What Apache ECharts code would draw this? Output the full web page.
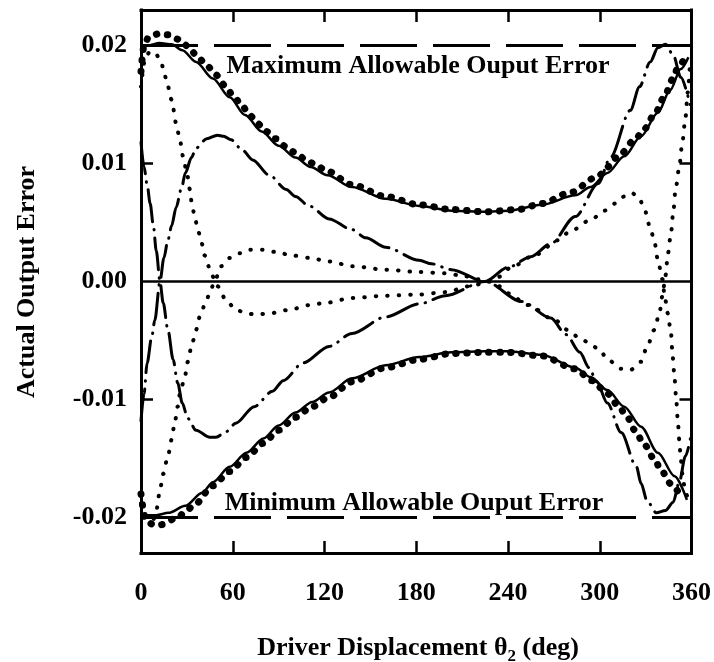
<!DOCTYPE html>
<html>
<head>
<meta charset="utf-8">
<script src="https://cdn.jsdelivr.net/npm/echarts@6/dist/echarts.min.js"></script>
<style>
  html, body { margin: 0; padding: 0; background: #fff; }
  #chart { width: 714px; height: 662px; }
</style>
</head>
<body>
<div id="chart"></div>
<script>
// Axis ticks and labels
const xTicks = [0, 60, 120, 180, 240, 300, 360];
const yTickLabels = [-0.02, -0.01, 0, 0.01, 0.02];
const yInnerTicks = [-0.01, 0.01];

// Error bounds
const maxAllowable = 0.02;
const minAllowable = -0.02;
const zeroLevel = 0;

// Envelope of the output error (solid)
const upperEnvelope = [[0,0.0197],[5,0.0200],[12,0.0202],[20,0.0201],[27,0.0196],[36,0.0186],[47,0.0172],[58,0.0156],[68,0.0141],[79,0.0127],[90,0.0115],[101,0.0105],[111,0.0097],[122,0.0090],[138,0.0080],[160,0.0070],[182,0.0064],[203,0.0060],[225,0.0059],[240,0.0060],[262,0.0065],[284,0.0073],[294,0.0080],[305,0.0092],[316,0.0106],[327,0.0123],[338,0.0143],[346,0.0162],[353,0.0180],[358,0.0190]];
const lowerEnvelope = [[0,-0.0198],[10,-0.0198],[18,-0.0196],[29,-0.0190],[40,-0.0179],[47,-0.0170],[58,-0.0157],[69,-0.0145],[80,-0.0133],[90,-0.0122],[101,-0.0111],[112,-0.0102],[123,-0.0094],[138,-0.0082],[160,-0.0071],[182,-0.0064],[203,-0.0060],[225,-0.0059],[240,-0.0059],[262,-0.0062],[284,-0.0073],[294,-0.0081],[305,-0.0092],[316,-0.0106],[327,-0.0123],[338,-0.0145],[349,-0.0165],[357,-0.0185]];

// Fitted envelope (heavy dots)
const upperFit = [[0,0.0178],[2,0.0200],[5,0.0207],[12,0.0210],[18,0.0209],[25,0.0205],[31,0.0199],[36,0.0192],[43,0.0183],[49,0.0175],[55,0.0166],[60,0.0158],[66,0.0149],[71,0.0141],[76,0.0134],[82,0.0127],[88,0.0121],[95,0.0114],[101,0.0109],[108,0.0103],[114,0.0099],[121,0.0094],[138,0.0082],[160,0.0072],[182,0.0065],[203,0.0061],[225,0.0059],[247,0.0061],[262,0.0066],[280,0.0075],[299,0.0089],[305,0.0097],[312,0.0106],[323,0.0120],[329,0.0129],[336,0.0142],[342,0.0156],[348,0.0172],[351,0.0181],[355,0.0188]];
const lowerFit = [[0,-0.0180],[3,-0.0202],[8,-0.0206],[13,-0.0206],[24,-0.0200],[29,-0.0195],[35,-0.0189],[47,-0.0173],[58,-0.0161],[69,-0.0149],[80,-0.0137],[90,-0.0126],[101,-0.0115],[112,-0.0106],[123,-0.0098],[138,-0.0085],[160,-0.0073],[182,-0.0066],[203,-0.0061],[225,-0.0060],[240,-0.0060],[262,-0.0063],[284,-0.0074],[295,-0.0084],[305,-0.0095],[312,-0.0105],[318,-0.0115],[323,-0.0126],[329,-0.0138],[336,-0.0151],[340,-0.0160],[347,-0.0172],[353,-0.0182]];

// Error of the two branches (fine dots)
const branchOne = [[0,0.0165],[3,0.0190],[6,0.0195],[10,0.0192],[13,0.0187],[15,0.0178],[17,0.0168],[20,0.0154],[23,0.0134],[25.4,0.0120],[27.5,0.0106],[30,0.0092],[32,0.0078],[33,0.0068],[35,0.0056],[37,0.0045],[39.5,0.0033],[41.7,0.0022],[45,0.0011],[48.5,0],[50,-0.0004],[55.8,-0.0016],[62,-0.0024],[69,-0.0027],[75,-0.0028],[84,-0.0027],[97,-0.0024],[110,-0.0020],[121,-0.0018],[138,-0.0014],[160,-0.0012],[182,-0.0011],[199,-0.0009],[215,-0.0004],[228,0],[234,0.0004],[242,0.0012],[257,0.0022],[273,0.0035],[280,0.0042],[294,0.0052],[303,0.0060],[310,0.0066],[316,0.0072],[321,0.0075],[326,0.0070],[329,0.0062],[333,0.0046],[336,0.0032],[338,0.0018],[341,0.0002],[342.5,-0.0013],[344.5,-0.0027],[346.6,-0.0044],[347.7,-0.0064],[349,-0.0083],[350,-0.0100],[351,-0.0117],[352,-0.0134],[353,-0.0151],[354.5,-0.0168],[356,-0.0179],[358,-0.0185]];
const branchTwo = [[0,-0.0188],[4,-0.0199],[8,-0.0202],[10,-0.0194],[12,-0.0180],[14.5,-0.0163],[17.6,-0.0148],[20,-0.0134],[22,-0.0120],[24,-0.0106],[25.5,-0.0095],[28.6,-0.0081],[30.6,-0.0068],[33,-0.0055],[36,-0.0041],[38.4,-0.0030],[41.7,-0.0020],[45,-0.0010],[48,0],[52.5,0.0013],[58,0.0020],[64.5,0.0024],[71,0.0027],[80,0.0027],[88,0.0025],[99,0.0022],[110,0.0020],[123,0.0017],[138,0.0013],[160,0.0010],[182,0.0008],[199,0.0007],[210,0.0005],[220,0.0002],[228,0],[234,-0.0004],[240,-0.0010],[253,-0.0020],[271,-0.0033],[279,-0.0041],[287,-0.0048],[293,-0.0052],[299,-0.0057],[306,-0.0067],[314,-0.0074],[320,-0.0075],[327,-0.0068],[331,-0.0055],[335.7,-0.0041],[339,-0.0027],[341,-0.0012],[343,0.0005],[344.6,0.0024],[346.6,0.0041],[348,0.0058],[349.6,0.0078],[352,0.0097],[354,0.0118],[356,0.0138],[357.5,0.0160],[359,0.0185]];

// Linkage error (dash-dot)
const linkOne = [[0,0.0118],[2,0.0097],[4,0.0082],[6,0.0066],[8,0.0048],[10,0.0026],[12.4,0],[14.5,-0.0018],[17.6,-0.0041],[21,-0.0066],[24,-0.0086],[27,-0.0103],[30.6,-0.0116],[36,-0.0126],[45,-0.0132],[49,-0.0132],[56,-0.0127],[62,-0.0120],[74,-0.0106],[86,-0.0093],[93,-0.0084],[106,-0.0069],[123,-0.0055],[138,-0.0044],[160,-0.0030],[182,-0.0019],[199,-0.0012],[225,0],[240,0.0012],[255,0.0021],[268,0.0032],[284,0.0055],[299,0.0083],[307,0.0105],[320,0.0145],[326,0.0165],[333,0.0186],[338,0.0198],[343,0.0201],[348,0.0192],[353,0.0173],[359,0.0150]];
const linkTwo = [[0,-0.0118],[2,-0.0095],[4,-0.0069],[7,-0.0047],[9,-0.0033],[12.4,0],[15,0.0020],[17.6,0.0035],[20,0.0047],[23,0.0063],[26.5,0.0079],[29,0.0092],[33,0.0105],[36,0.0113],[43,0.0121],[50,0.0124],[54,0.0123],[59,0.0120],[66.5,0.0111],[73,0.0103],[84,0.0090],[95,0.0078],[101,0.0072],[110,0.0064],[123,0.0053],[138,0.0044],[147,0.0037],[160,0.0029],[182,0.0018],[190,0.0015],[203,0.0010],[225,0],[249,-0.0017],[268,-0.0031],[278,-0.0045],[287,-0.0060],[293,-0.0073],[298,-0.0085],[305,-0.0103],[314,-0.0128],[324,-0.0157],[327,-0.0171],[331,-0.0186],[337,-0.0196],[343,-0.0194],[348,-0.0187],[352,-0.0170],[356,-0.0148],[360,-0.0128]];

const FONT = "'Liberation Serif', 'Times New Roman', serif";
const INK = '#000';
const TICK_LEN = 12;

function curve(data, lineStyle, extra) {
  return Object.assign({
    type: 'line', data: data, symbol: 'none', silent: true,
    smooth: 0.3, smoothMonotone: 'x',
    lineStyle: Object.assign({ color: INK }, lineStyle)
  }, extra || {});
}

const solid = { width: 2.5, type: 'solid' };
const heavyDots = { width: 7, type: [0.5, 10.5], cap: 'round' };
const fineDots = { width: 4, type: [0.5, 11], cap: 'round' };
const dashDot = { width: 3, type: [32, 8, 0.5, 8], cap: 'round' };
const boundDash = { width: 3, type: [57, 16], cap: 'butt' };

const chart = echarts.init(document.getElementById('chart'), null, { renderer: 'canvas' });

// The frame is drawn by four axes sitting on the plot edges (lines only).
// A second set of axes, shifted inward by the tick length, carries the
// ticks (which then reach from inside the plot out to the frame) and the labels.
function frameAxis(position, isX) {
  const a = {
    type: 'value', position: position,
    axisLine: { show: true, onZero: false, lineStyle: { color: INK, width: 3, cap: 'square' } },
    axisTick: { show: false }, axisLabel: { show: false }, splitLine: { show: false }
  };
  if (isX) { a.min = xTicks[0]; a.max = xTicks[xTicks.length - 1]; a.interval = 60; }
  else { a.min = -0.023; a.max = 0.023; }
  return a;
}
function tickAxis(position, isX, label) {
  const a = {
    type: 'value', position: position, offset: -TICK_LEN,
    axisLine: { show: true, onZero: false, lineStyle: { color: INK, width: 0, opacity: 0 } },
    axisTick: { show: true, inside: false, length: TICK_LEN, lineStyle: { color: INK, width: 2.5 } },
    splitLine: { show: false },
    axisLabel: label || { show: false }
  };
  if (isX) { a.min = xTicks[0]; a.max = xTicks[xTicks.length - 1]; a.interval = 60; }
  else { a.min = -0.023; a.max = 0.023; a.axisTick.customValues = yInnerTicks; }
  return a;
}

chart.setOption({
  animation: false,
  backgroundColor: '#fff',
  grid: { left: 141, right: 20, top: 10, bottom: 109, show: false },
  xAxis: [
    frameAxis('bottom', true),
    frameAxis('top', true),
    tickAxis('bottom', true, { color: INK, fontFamily: FONT, fontWeight: 'bold', fontSize: 26,
      margin: 27 + TICK_LEN, customValues: xTicks, formatter: v => String(v) }),
    tickAxis('top', true)
  ],
  yAxis: [
    frameAxis('left', false),
    frameAxis('right', false),
    tickAxis('left', false, { color: INK, fontFamily: FONT, fontWeight: 'bold', fontSize: 26,
      margin: 14 + TICK_LEN, customValues: yTickLabels, formatter: v => v.toFixed(2) }),
    tickAxis('right', false)
  ],
  series: [
    curve([[0, zeroLevel], [360, zeroLevel]], { width: 2.5, type: 'solid' }, { smooth: false }),
    curve([[0, maxAllowable], [360, maxAllowable]], boundDash, { smooth: false }),
    curve([[0, minAllowable], [360, minAllowable]], boundDash, { smooth: false }),
    curve(upperEnvelope, solid),
    curve(lowerEnvelope, solid),
    curve(upperFit, heavyDots),
    curve(lowerFit, heavyDots),
    curve(branchOne, fineDots),
    curve(branchTwo, fineDots),
    curve(linkOne, dashDot),
    curve(linkTwo, dashDot)
  ],
  graphic: [
    {
      type: 'text', x: 418, y: 66, silent: true,
      style: { text: 'Maximum Allowable Ouput Error', font: 'bold 26px ' + FONT, fill: INK, align: 'center', verticalAlign: 'middle' }
    },
    {
      type: 'text', x: 414, y: 503, silent: true,
      style: { text: 'Minimum Allowable Ouput Error', font: 'bold 26px ' + FONT, fill: INK, align: 'center', verticalAlign: 'middle' }
    },
    {
      type: 'text', x: 27, y: 282, rotation: Math.PI / 2, silent: true,
      style: { text: 'Actual Output Error', font: 'bold 26px ' + FONT, fill: INK, align: 'center', verticalAlign: 'middle' }
    },
    {
      type: 'text', x: 418, y: 648, silent: true,
      style: {
        text: '{m|Driver Displacement θ}{s|2}{m| (deg)}',
        fill: INK, align: 'center', verticalAlign: 'middle',
        rich: {
          m: { fontFamily: FONT, fontWeight: 'bold', fontSize: 26, lineHeight: 34, verticalAlign: 'middle', fill: INK },
          s: { fontFamily: FONT, fontWeight: 'bold', fontSize: 17, lineHeight: 34, verticalAlign: 'bottom', fill: INK }
        }
      }
    }
  ]
});
</script>
</body>
</html>
